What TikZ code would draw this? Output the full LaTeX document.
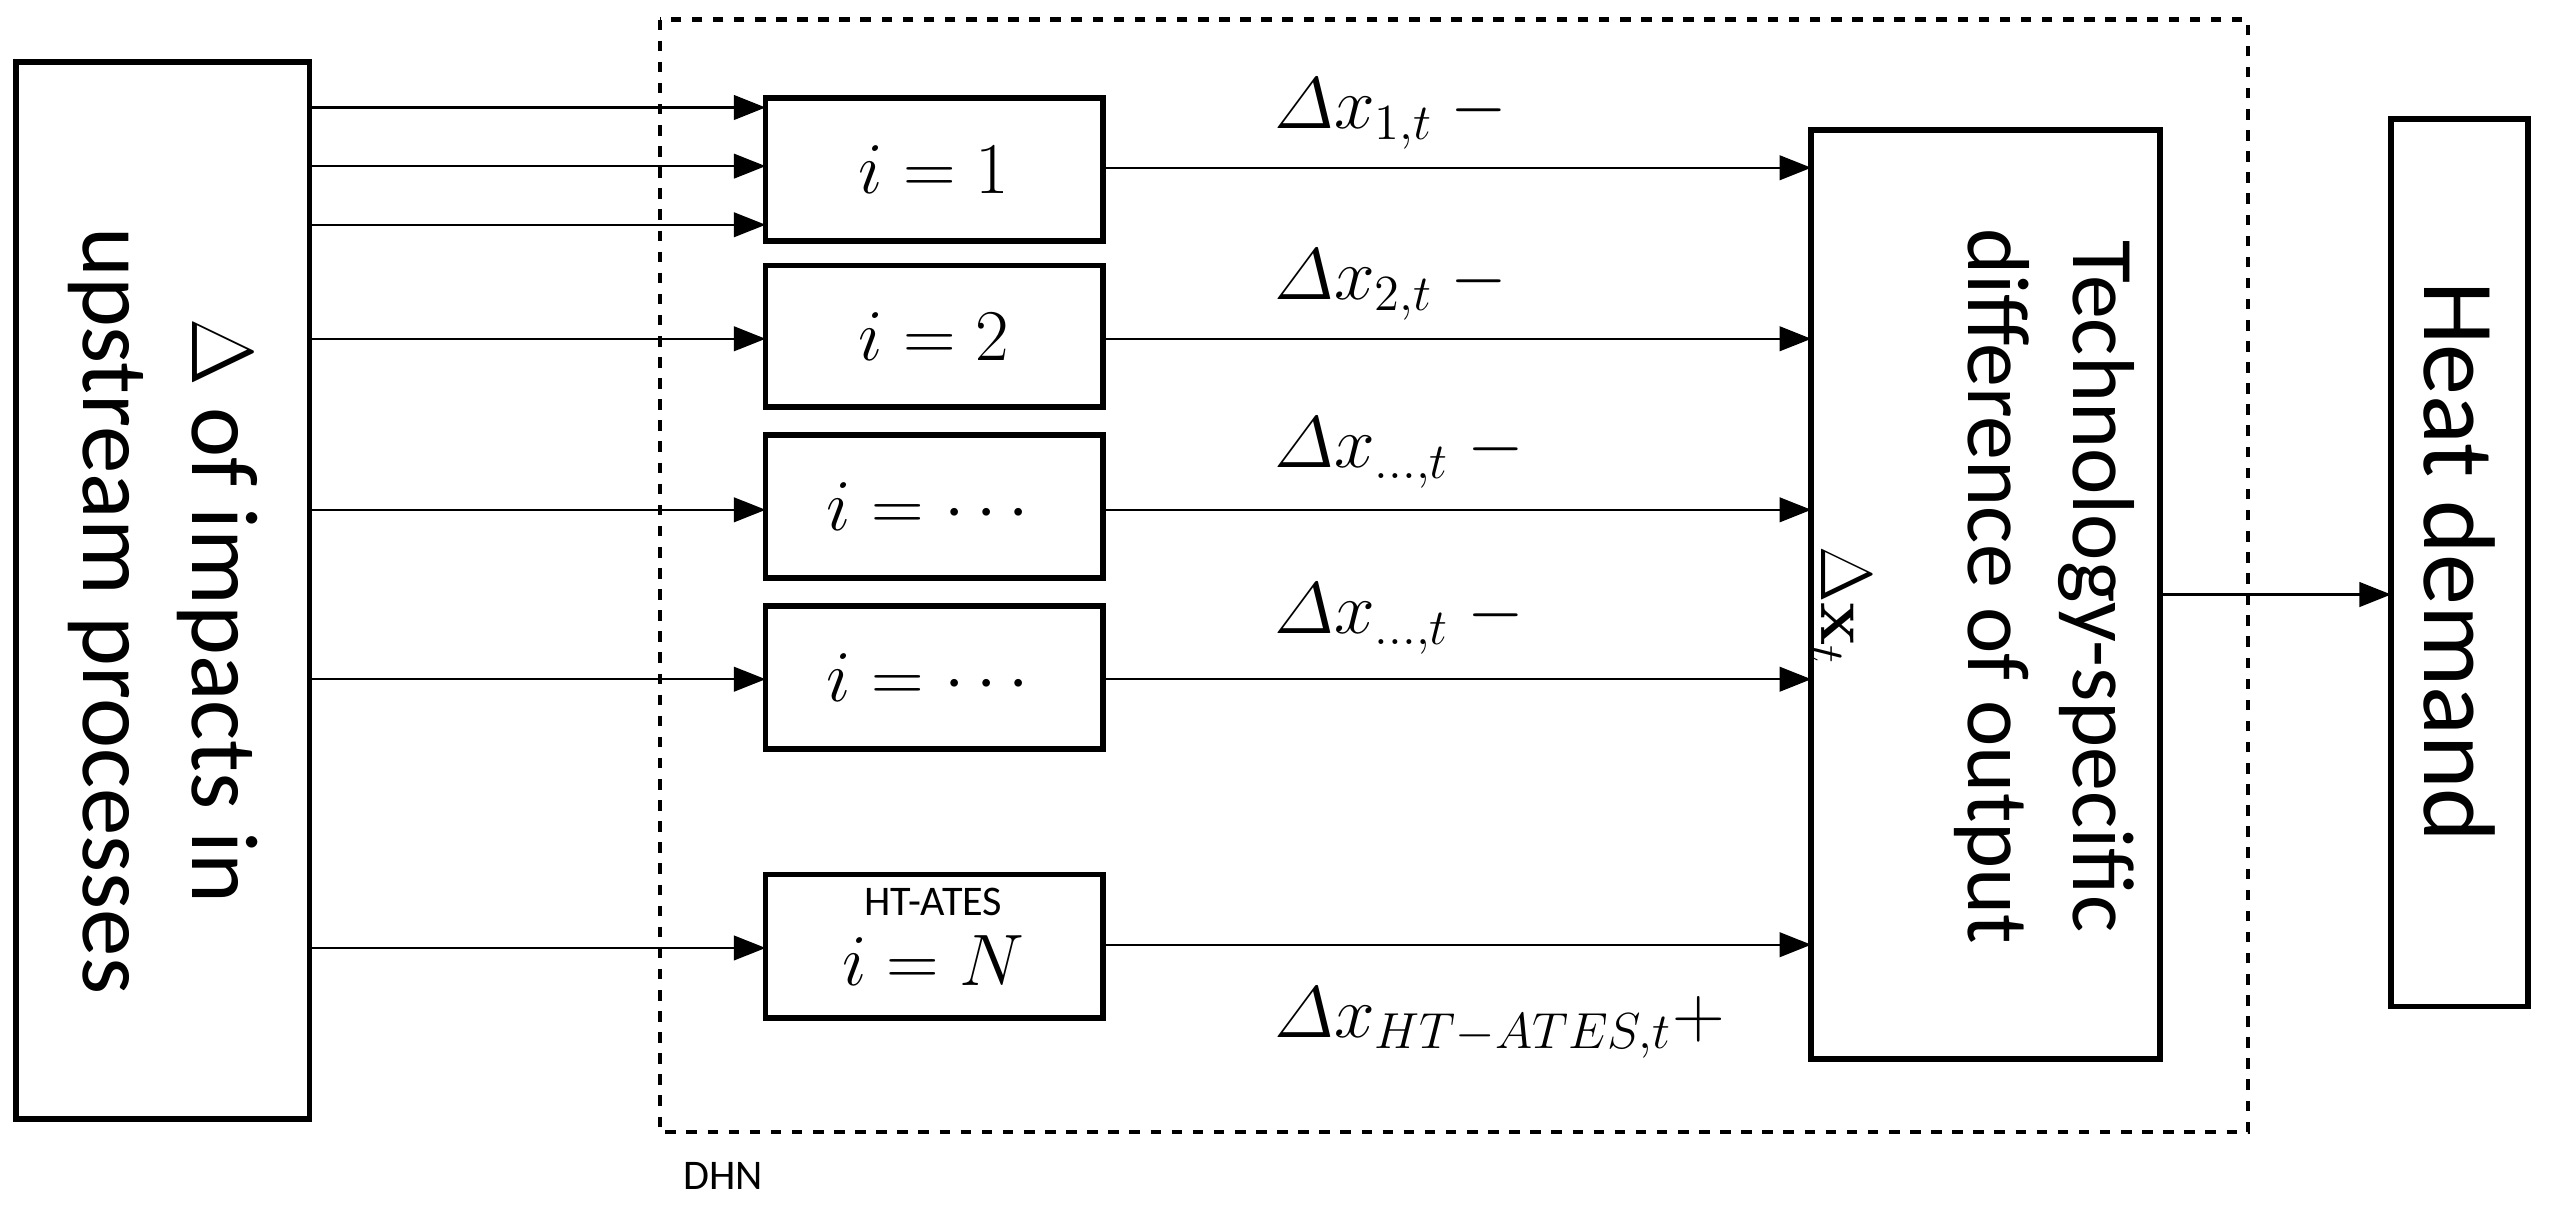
\documentclass[tikz,border=0pt]{standalone}
\usepackage{amsmath}
\usepackage[no-math]{fontspec}
\setmainfont{Carlito}
\usetikzlibrary{arrows.meta}
\begin{document}
\begin{tikzpicture}[x=0.016288cm,y=-0.016288cm,
  arr/.style={-{Triangle[length=9pt,width=7pt]},line width=0.6pt},
  lbl/.style={font=\fontsize{22}{24}\selectfont},
  rot/.style={rotate=-90,align=center}]
\useasboundingbox (0,0) rectangle (1568,750);
\draw[dashed,line width=1.2pt] (405,12) rectangle (1380,695);
\node[anchor=west,font=\fontsize{12}{14}\selectfont] (dhn) at (412,722) {DHN};
% left box
\draw[line width=1.6pt] (10,38) rectangle (190,687);
\node[rot,font=\fontsize{27}{31}\selectfont] (lt) at (100,375) {$\Delta$ of impacts in\\upstream processes};
% small boxes
\foreach \n/\ya/\yb in {a/60/148,b/163/250,c/267/355,d/372/460,e/537/625}{
  \draw[line width=1.6pt] (470,\ya) rectangle (677,\yb);
  \coordinate (\n) at (573.5,{(\ya+\yb)/2});
}
\node[lbl] (ta) at (a) {$i=1$};
\node[lbl] (tb) at (b) {$i=2$};
\node[lbl] (tc) at (c) {$i=\cdots$};
\node[lbl] (td) at (d) {$i=\cdots$};
\node[font=\fontsize{12}{14}\selectfont] (te1) at (573,554) {HT-ATES};
\node[lbl] (te) at (573,590) {$i=N$};
% right box
\draw[line width=1.6pt] (1112,80) rectangle (1326,650);
\node[rot,font=\fontsize{25}{30}\selectfont] (rt) at (1255,360) {Technology-specific\\difference of output};
\node[rotate=-90,font=\fontsize{22}{24}\selectfont] (dx) at (1130,372) {$\Delta\mathbf{x}_t$};
% heat demand
\draw[line width=1.6pt] (1468,73) rectangle (1552,618);
\node[rot,font=\fontsize{29}{32}\selectfont] (hd) at (1510,345) {Heat demand};
% input arrows
\foreach \y/\n in {66/i1,102/i2,138/i3,208/i4,313/i5,417/i6,582/i7}{
  \coordinate (s\n) at (190,\y); \coordinate (t\n) at (470,\y);
  \draw[arr] (s\n) -- (t\n);
}
% output arrows
\foreach \y/\n in {103/o1,208/o2,313/o3,417/o4,580/o5}{
  \coordinate (s\n) at (677,\y); \coordinate (t\n) at (1112,\y);
  \draw[arr] (s\n) -- (t\n);
}
\coordinate (hs) at (1326,365); \coordinate (ht) at (1468,365);
\draw[arr] (hs) -- (ht);
% labels
\node[lbl,anchor=west] (l1) at (775,70) {$\varDelta x_{1,t}$ $-$};
\node[lbl,anchor=west] (l2) at (775,175) {$\varDelta x_{2,t}$ $-$};
\node[lbl,anchor=west] (l3) at (775,278) {$\varDelta x_{\dots,t}$ $-$};
\node[lbl,anchor=west] (l4) at (775,380) {$\varDelta x_{\dots,t}$ $-$};
\node[lbl,anchor=west] (l5) at (775,628) {$\varDelta x_{HT-ATES,t}{+}$};
\end{tikzpicture}
\end{document}
